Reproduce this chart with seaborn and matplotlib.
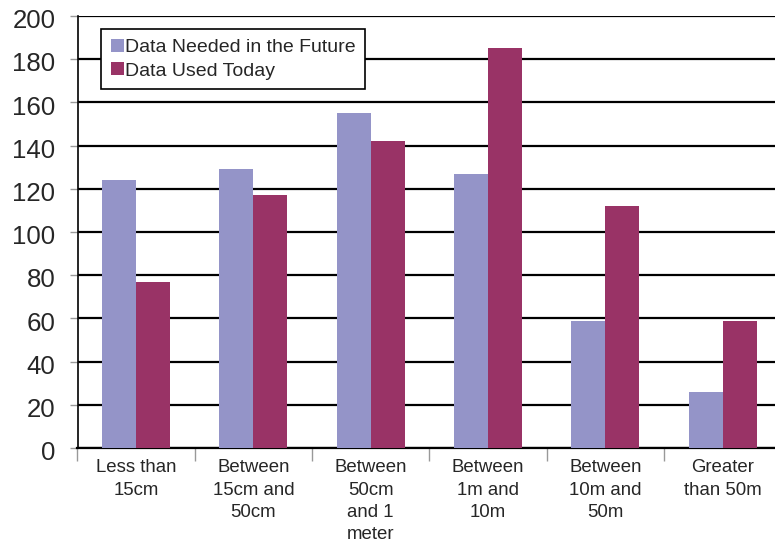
import matplotlib
matplotlib.use("Agg")
import matplotlib.pyplot as plt
import matplotlib.transforms as mtransforms
import seaborn as sns
import pandas as pd

categories = ["Less than\n15cm", "Between\n15cm and\n50cm", "Between\n50cm\nand 1\nmeter",
              "Between\n1m and\n10m", "Between\n10m and\n50m", "Greater\nthan 50m"]
series_names = ["Data Needed in the Future", "Data Used Today"]
needed_future = [124, 129, 155, 127, 59, 26]
used_today = [77, 117, 142, 185, 112, 59]
yticks = [0, 20, 40, 60, 80, 100, 120, 140, 160, 180, 200]
colors = ["#9494C8", "#993366"]

df = pd.DataFrame({
    "category": categories * 2,
    "series": [series_names[0]] * len(categories) + [series_names[1]] * len(categories),
    "value": needed_future + used_today,
})

sns.set_theme(style="white")
plt.rcParams["font.family"] = ["Liberation Sans", "DejaVu Sans"]

fig = plt.figure(figsize=(7.75, 5.46), dpi=100)
ax = fig.add_axes([0.1, 0.1795, 0.908, 0.7912])

sns.barplot(data=df, x="category", y="value", hue="series", order=categories,
            hue_order=series_names, palette=colors, width=0.58, gap=0,
            saturation=1, linewidth=0, ax=ax, zorder=3)

ax.set_ylim(0, 200)
ax.set_xlim(-0.5, 5.5)
ax.set_yticks(yticks)
ax.set_yticklabels([str(v) for v in yticks], fontsize=18.6)
ax.set_xlabel("")
ax.set_ylabel("")
ax.yaxis.grid(True, color="black", linewidth=1.6, zorder=0)
ax.set_axisbelow(True)
ax.tick_params(axis="y", which="major", length=6, width=1, color="#999999", left=True, pad=10)
off = mtransforms.ScaledTranslation(0, -2 / 72, fig.dpi_scale_trans)
for lab in ax.get_yticklabels():
    lab.set_transform(lab.get_transform() + off)

ax.set_xticks(range(len(categories)))
ax.set_xticklabels(categories, fontsize=13.4, linespacing=1.42, va="top")
ax.tick_params(axis="x", which="major", length=0, pad=8)
ax.set_xticks([i - 0.5 for i in range(len(categories) + 1)], minor=True)
ax.tick_params(axis="x", which="minor", length=9, width=1, color="#999999", bottom=True)

for s in ["top", "right"]:
    ax.spines[s].set_visible(False)
ax.spines["left"].set_color("black")
ax.spines["left"].set_linewidth(1.2)
ax.spines["bottom"].set_color("black")
ax.spines["bottom"].set_linewidth(1.6)

leg = ax.legend(loc="upper left", bbox_to_anchor=(0.0333, 0.970), fontsize=14,
                frameon=True, fancybox=False, edgecolor="black", framealpha=1,
                handlelength=0.68, handleheight=0.68, handletextpad=0.05,
                borderpad=0.5, labelspacing=0.3, borderaxespad=0)
leg.get_frame().set_linewidth(1.2)

fig.savefig("out.png", dpi=100)
